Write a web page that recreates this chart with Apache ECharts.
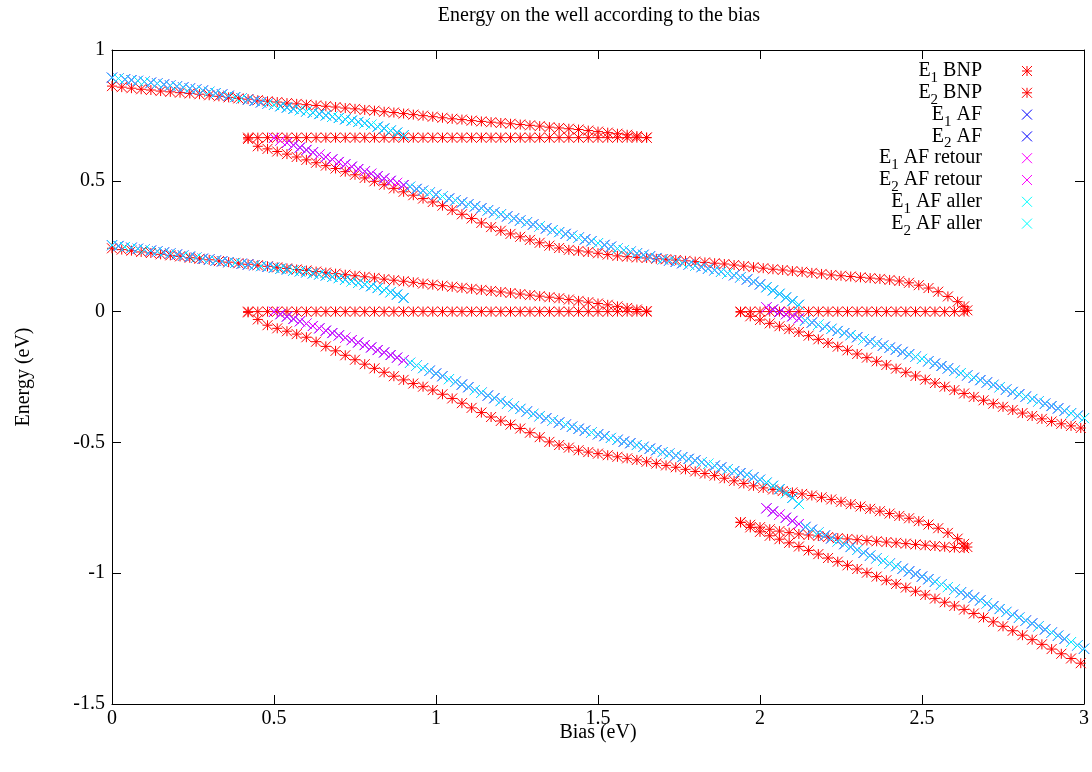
<!DOCTYPE html>
<html>
<head>
<meta charset="utf-8">
<title>Energy on the well according to the bias</title>
<script src="https://cdn.jsdelivr.net/npm/echarts@6/dist/echarts.min.js"></script>
<style>
  html, body { margin: 0; padding: 0; background: #fff; }
  #chart { width: 1092px; height: 772px; }
</style>
</head>
<body>
<div id="chart"></div>
<script>
// ---- Bias grids (eV) of the sampled branches ----
const biasA = [0,0.03,0.06,0.09,0.12,0.15,0.18,0.21,0.24,0.27,
  0.30,0.33,0.36,0.39,0.42,0.45,0.48,0.51,0.54,0.57,
  0.60,0.63,0.66,0.69,0.72,0.75,0.78,0.81,0.84,0.87,
  0.90,0.93,0.96,0.99,1.02,1.05,1.08,1.11,1.14,1.17,
  1.20,1.23,1.26,1.29,1.32,1.35,1.38,1.41,1.44,1.47,
  1.50,1.53,1.56,1.59,1.62,1.65];
const biasB = [0.42,0.45,0.48,0.51,0.54,0.57,0.60,0.63,0.66,0.69,
  0.72,0.75,0.78,0.81,0.84,0.87,0.90,0.93,0.96,0.99,
  1.02,1.05,1.08,1.11,1.14,1.17,1.20,1.23,1.26,1.29,
  1.32,1.35,1.38,1.41,1.44,1.47,1.50,1.53,1.56,1.59,
  1.62,1.65];
const biasC = [0.42,0.45,0.48,0.51,0.54,0.57,0.60,0.63,0.66,0.69,
  0.72,0.75,0.78,0.81,0.84,0.87,0.90,0.93,0.96,0.99,
  1.02,1.05,1.08,1.11,1.14,1.17,1.20,1.23,1.26,1.29,
  1.32,1.35,1.38,1.41,1.44,1.47,1.50,1.53,1.56,1.59,
  1.62,1.65,1.68,1.71,1.74,1.77,1.80,1.83,1.86,1.89,
  1.92,1.95,1.98,2.01,2.04,2.07,2.10,2.13,2.16,2.19,
  2.22,2.25,2.28,2.31,2.34,2.37,2.40,2.43,2.46,2.49,
  2.52,2.55,2.58,2.61,2.63,2.64];
const biasD = [1.94,1.97,2.00,2.03,2.06,2.09,2.12,2.15,2.18,2.21,
  2.24,2.27,2.30,2.33,2.36,2.39,2.42,2.45,2.48,2.51,
  2.54,2.57,2.60,2.63];
const biasE = [1.94,1.97,2.00,2.03,2.06,2.09,2.12,2.15,2.18,2.21,
  2.24,2.27,2.30,2.33,2.36,2.39,2.42,2.45,2.48,2.51,
  2.54,2.57,2.60,2.63,2.66,2.69,2.72,2.75,2.78,2.81,
  2.84,2.87,2.90,2.93,2.96,2.99];
const afBiasHigh = [0,0.02,0.04,0.06,0.08,0.10,0.12,0.14,0.16,0.18,
  0.20,0.22,0.24,0.26,0.28,0.30,0.32,0.34,0.36,0.38,
  0.40,0.42,0.44,0.46,0.48,0.50,0.52,0.54,0.56,0.58,
  0.60,0.62,0.64,0.66,0.68,0.70,0.72,0.74,0.76,0.78,
  0.80,0.82,0.84,0.86,0.88,0.90];
const afBiasMid = [0.50,0.52,0.54,0.56,0.58,0.60,0.62,0.64,0.66,0.68,
  0.70,0.72,0.74,0.76,0.78,0.80,0.82,0.84,0.86,0.88,
  0.90,0.92,0.94,0.96,0.98,1.00,1.02,1.04,1.06,1.08,
  1.10,1.12,1.14,1.16,1.18,1.20,1.22,1.24,1.26,1.28,
  1.30,1.32,1.34,1.36,1.38,1.40,1.42,1.44,1.46,1.48,
  1.50,1.52,1.54,1.56,1.58,1.60,1.62,1.64,1.66,1.68,
  1.70,1.72,1.74,1.76,1.78,1.80,1.82,1.84,1.86,1.88,
  1.90,1.92,1.94,1.96,1.98,2.00,2.02,2.04,2.06,2.08,
  2.10,2.12];
const afBiasLow = [2.02,2.04,2.06,2.08,2.10,2.12,2.14,2.16,2.18,2.20,
  2.22,2.24,2.26,2.28,2.30,2.32,2.34,2.36,2.38,2.40,
  2.42,2.44,2.46,2.48,2.50,2.52,2.54,2.56,2.58,2.60,
  2.62,2.64,2.66,2.68,2.70,2.72,2.74,2.76,2.78,2.80,
  2.82,2.84,2.86,2.88,2.90,2.92,2.94,2.96,2.98,3.00];

// ---- BNP solutions, level E2 (eV) ----
const e2BnpUpper = [0.862,0.858,0.854,0.850,0.847,0.843,0.840,0.837,0.834,0.831,
  0.827,0.823,0.819,0.815,0.812,0.808,0.804,0.801,0.797,0.794,
  0.791,0.788,0.785,0.782,0.778,0.775,0.771,0.768,0.764,0.761,
  0.757,0.753,0.749,0.745,0.741,0.737,0.734,0.730,0.727,0.724,
  0.721,0.718,0.715,0.712,0.709,0.705,0.702,0.699,0.696,0.692,
  0.688,0.684,0.680,0.676,0.671,0.665];
const e2BnpFlat1 = 0.665;
const e2BnpLower = [0.660,0.632,0.622,0.612,0.602,0.591,0.580,0.569,0.558,0.547,
  0.535,0.523,0.511,0.498,0.485,0.471,0.458,0.445,0.432,0.419,
  0.405,0.388,0.372,0.356,0.339,0.323,0.309,0.297,0.286,0.274,
  0.263,0.252,0.243,0.236,0.232,0.228,0.223,0.218,0.213,0.210,
  0.207,0.205,0.202,0.200,0.197,0.194,0.191,0.188,0.185,0.182,
  0.178,0.174,0.170,0.166,0.162,0.159,0.155,0.152,0.148,0.144,
  0.140,0.137,0.134,0.131,0.128,0.125,0.121,0.117,0.110,0.101,
  0.090,0.076,0.058,0.038,0.020,0.005];
const e2BnpFlat2 = 0.0;
const e2BnpBottom = [-0.002,-0.018,-0.032,-0.045,-0.056,-0.067,-0.078,-0.092,-0.106,-0.120,
  -0.134,-0.148,-0.162,-0.176,-0.190,-0.204,-0.218,-0.232,-0.246,-0.260,
  -0.273,-0.287,-0.300,-0.313,-0.326,-0.339,-0.352,-0.364,-0.376,-0.388,
  -0.399,-0.410,-0.420,-0.429,-0.437,-0.445];

// ---- BNP solutions, level E1 (eV) ----
const e1BnpUpper = [0.242,0.237,0.233,0.228,0.224,0.219,0.215,0.211,0.206,0.202,
  0.198,0.193,0.189,0.185,0.181,0.177,0.173,0.169,0.165,0.161,
  0.157,0.153,0.149,0.145,0.141,0.137,0.133,0.129,0.124,0.120,
  0.116,0.112,0.107,0.103,0.099,0.095,0.091,0.087,0.083,0.079,
  0.075,0.071,0.067,0.063,0.059,0.055,0.051,0.046,0.041,0.036,
  0.031,0.026,0.020,0.014,0.008,0.002];
const e1BnpFlat1 = 0.0;
const e1BnpLower = [-0.003,-0.030,-0.052,-0.064,-0.075,-0.086,-0.098,-0.115,-0.133,-0.150,
  -0.167,-0.184,-0.201,-0.217,-0.232,-0.247,-0.261,-0.275,-0.287,-0.300,
  -0.316,-0.332,-0.350,-0.368,-0.386,-0.403,-0.418,-0.432,-0.447,-0.463,
  -0.480,-0.498,-0.510,-0.520,-0.530,-0.537,-0.543,-0.549,-0.555,-0.561,
  -0.567,-0.574,-0.581,-0.588,-0.595,-0.603,-0.611,-0.619,-0.627,-0.637,
  -0.647,-0.657,-0.666,-0.674,-0.680,-0.686,-0.691,-0.697,-0.703,-0.710,
  -0.718,-0.727,-0.736,-0.745,-0.754,-0.763,-0.772,-0.781,-0.790,-0.801,
  -0.814,-0.828,-0.846,-0.868,-0.888,-0.900];
const e1BnpMiddle2 = [-0.805,-0.815,-0.824,-0.832,-0.839,-0.845,-0.850,-0.854,-0.858,-0.862,
  -0.866,-0.869,-0.872,-0.875,-0.878,-0.881,-0.884,-0.887,-0.890,-0.893,
  -0.896,-0.899,-0.902,-0.904];
const e1BnpBottom = [-0.806,-0.825,-0.842,-0.857,-0.870,-0.884,-0.898,-0.913,-0.927,-0.942,
  -0.956,-0.970,-0.984,-0.998,-1.013,-1.027,-1.041,-1.055,-1.069,-1.083,
  -1.097,-1.111,-1.125,-1.139,-1.154,-1.169,-1.186,-1.203,-1.220,-1.237,
  -1.254,-1.272,-1.290,-1.308,-1.326,-1.344];

// ---- AF self-consistent branches (eV) ----
const e2AfHigh = [0.894,0.891,0.888,0.885,0.882,0.879,0.875,0.872,0.868,0.864,
  0.861,0.857,0.853,0.849,0.845,0.840,0.835,0.830,0.825,0.820,
  0.815,0.810,0.805,0.800,0.795,0.790,0.785,0.780,0.775,0.770,
  0.765,0.760,0.755,0.750,0.745,0.740,0.735,0.730,0.725,0.720,
  0.714,0.707,0.700,0.692,0.684,0.674];
const e2AfMid = [0.664,0.654,0.645,0.636,0.627,0.618,0.609,0.600,0.591,0.582,
  0.572,0.563,0.554,0.545,0.536,0.527,0.518,0.509,0.500,0.492,
  0.484,0.477,0.469,0.462,0.455,0.447,0.440,0.432,0.425,0.417,
  0.410,0.402,0.395,0.387,0.379,0.372,0.364,0.356,0.348,0.341,
  0.333,0.326,0.318,0.311,0.304,0.297,0.290,0.283,0.276,0.269,
  0.262,0.255,0.248,0.241,0.235,0.229,0.223,0.217,0.211,0.205,
  0.200,0.195,0.190,0.185,0.180,0.175,0.170,0.164,0.158,0.152,
  0.146,0.139,0.131,0.123,0.114,0.104,0.093,0.081,0.068,0.054,
  0.040,0.026];
const e2AfLow = [0.016,0.008,-0.002,-0.010,-0.018,-0.026,-0.034,-0.042,-0.050,-0.058,
  -0.066,-0.074,-0.082,-0.090,-0.098,-0.106,-0.114,-0.122,-0.130,-0.138,
  -0.145,-0.154,-0.163,-0.172,-0.181,-0.190,-0.199,-0.208,-0.217,-0.226,
  -0.235,-0.244,-0.253,-0.262,-0.271,-0.280,-0.289,-0.298,-0.307,-0.316,
  -0.325,-0.334,-0.343,-0.352,-0.361,-0.370,-0.379,-0.388,-0.398,-0.407];
const e1AfHigh = [0.254,0.251,0.247,0.244,0.240,0.237,0.233,0.230,0.226,0.222,
  0.218,0.214,0.210,0.206,0.202,0.199,0.195,0.192,0.189,0.186,
  0.183,0.180,0.177,0.174,0.171,0.168,0.164,0.161,0.157,0.154,
  0.150,0.146,0.142,0.138,0.133,0.128,0.122,0.116,0.110,0.104,
  0.097,0.090,0.082,0.074,0.065,0.052];
const e1AfMid = [-0.001,-0.010,-0.019,-0.028,-0.037,-0.046,-0.055,-0.064,-0.073,-0.082,
  -0.091,-0.100,-0.109,-0.118,-0.128,-0.137,-0.147,-0.156,-0.166,-0.176,
  -0.186,-0.196,-0.206,-0.216,-0.226,-0.237,-0.247,-0.258,-0.268,-0.279,
  -0.289,-0.300,-0.310,-0.321,-0.331,-0.342,-0.352,-0.362,-0.372,-0.382,
  -0.391,-0.400,-0.408,-0.416,-0.424,-0.432,-0.440,-0.448,-0.455,-0.462,
  -0.469,-0.476,-0.483,-0.490,-0.497,-0.503,-0.510,-0.517,-0.524,-0.530,
  -0.537,-0.543,-0.550,-0.556,-0.563,-0.569,-0.576,-0.582,-0.589,-0.596,
  -0.603,-0.610,-0.617,-0.624,-0.633,-0.643,-0.654,-0.666,-0.679,-0.694,
  -0.712,-0.735];
const e1AfLow = [-0.752,-0.764,-0.776,-0.788,-0.800,-0.812,-0.823,-0.834,-0.845,-0.856,
  -0.867,-0.878,-0.889,-0.900,-0.911,-0.922,-0.933,-0.943,-0.953,-0.963,
  -0.973,-0.983,-0.993,-1.003,-1.013,-1.023,-1.033,-1.043,-1.053,-1.063,
  -1.073,-1.083,-1.093,-1.104,-1.115,-1.126,-1.137,-1.148,-1.159,-1.170,
  -1.181,-1.192,-1.203,-1.215,-1.227,-1.239,-1.251,-1.263,-1.276,-1.289];

// Bias values where the swept solution jumps between branches
const allerJumpBias = [0.90, 2.12];   // forward sweep: high -> mid, mid -> low
const retourJumpBias = [0.50, 2.02];  // backward sweep: mid -> high, low -> mid

// Key entries: level index, label suffix, marker kind, colour
const keyLevels = ['1', '2', '1', '2', '1', '2', '1', '2'];
const keyLabels = [' BNP', ' BNP', ' AF', ' AF', ' AF retour', ' AF retour', ' AF aller', ' AF aller'];

// ---- helpers ----
const EPS = 1e-9;
const pts = (xs, ys) => xs.map((x, i) => [x, ys[i]]);
const flat = (xs, y) => xs.map(x => [x, y]);

const e2Bnp = [].concat(pts(biasA, e2BnpUpper), flat(biasB, e2BnpFlat1),
  pts(biasC, e2BnpLower), flat(biasD, e2BnpFlat2), pts(biasE, e2BnpBottom));
const e1Bnp = [].concat(pts(biasA, e1BnpUpper), flat(biasB, e1BnpFlat1),
  pts(biasC, e1BnpLower), pts(biasD, e1BnpMiddle2), pts(biasE, e1BnpBottom));

function branches(high, mid, low) {
  return { high: pts(afBiasHigh, high), mid: pts(afBiasMid, mid), low: pts(afBiasLow, low) };
}
const e2Af = branches(e2AfHigh, e2AfMid, e2AfLow);
const e1Af = branches(e1AfHigh, e1AfMid, e1AfLow);

function allPoints(b) { return [].concat(b.high, b.mid, b.low); }
function aller(b) {
  return [].concat(
    b.high.filter(p => p[0] <= allerJumpBias[0] + EPS),
    b.mid.filter(p => p[0] > allerJumpBias[0] + EPS && p[0] <= allerJumpBias[1] + EPS),
    b.low.filter(p => p[0] > allerJumpBias[1] + EPS));
}
function retour(b) {
  return [].concat(
    b.low.filter(p => p[0] >= retourJumpBias[1] - EPS),
    b.mid.filter(p => p[0] < retourJumpBias[1] - EPS && p[0] >= retourJumpBias[0] - EPS),
    b.high.filter(p => p[0] < retourJumpBias[0] - EPS));
}

// ---- styling ----
const FONT = "'Liberation Serif', 'Times New Roman', serif";
const CROSS = 'path://M0 0L10 10M10 0L0 10';
const STAR = 'path://M0 0L10 10M10 0L0 10M5 0L5 10M0 5L10 5';
const RED = '#ff0000', BLUE = '#0000ff', MAGENTA = '#ff00ff', CYAN = '#00ffff';

function pointSeries(name, data, symbol, color) {
  return {
    name, type: 'scatter', data, symbol, symbolSize: 10,
    itemStyle: { color, borderColor: color, borderWidth: 1, opacity: 1 },
    progressive: 0, silent: true, animation: false
  };
}

const series = [
  pointSeries('E1 BNP', e1Bnp, STAR, RED),
  pointSeries('E2 BNP', e2Bnp, STAR, RED),
  pointSeries('E1 AF', allPoints(e1Af), CROSS, BLUE),
  pointSeries('E2 AF', allPoints(e2Af), CROSS, BLUE),
  pointSeries('E1 AF retour', retour(e1Af), CROSS, MAGENTA),
  pointSeries('E2 AF retour', retour(e2Af), CROSS, MAGENTA),
  pointSeries('E1 AF aller', aller(e1Af), CROSS, CYAN),
  pointSeries('E2 AF aller', aller(e2Af), CROSS, CYAN)
];

// ---- key (text right-aligned, sample marker to its right) ----
const KEY_TEXT_RIGHT = 982, KEY_MARK_X = 1027, KEY_TOP = 71, KEY_STEP = 21.8, HALF = 5;
const keyGraphics = [];
series.forEach((s, i) => {
  const y = KEY_TOP + i * KEY_STEP;
  const stroke = s.itemStyle.color;
  keyGraphics.push({
    type: 'text', silent: true,
    style: {
      x: KEY_TEXT_RIGHT, y, align: 'right', verticalAlign: 'middle',
      text: '{m|E}{s|' + keyLevels[i] + '}{m|' + keyLabels[i] + '}',
      fontFamily: FONT, fontSize: 20, fill: '#000',
      rich: {
        m: { fontFamily: FONT, fontSize: 20, fill: '#000', lineHeight: 22 },
        s: { fontFamily: FONT, fontSize: 15, fill: '#000', lineHeight: 8, height: 8, verticalAlign: 'bottom' }
      }
    }
  });
  const segs = [[-HALF, -HALF, HALF, HALF], [HALF, -HALF, -HALF, HALF]];
  if (s.symbol === STAR) segs.push([0, -HALF, 0, HALF], [-HALF, 0, HALF, 0]);
  segs.forEach(sg => keyGraphics.push({
    type: 'line', silent: true,
    shape: { x1: KEY_MARK_X + sg[0], y1: y + sg[1], x2: KEY_MARK_X + sg[2], y2: y + sg[3] },
    style: { stroke, lineWidth: 1 }
  }));
});

const frameLine = { show: true, onZero: false, lineStyle: { color: '#000', width: 1 } };
const innerTick = { show: true, inside: true, length: 9, lineStyle: { color: '#000', width: 1 } };

const chart = echarts.init(document.getElementById('chart'), null, { renderer: 'canvas' });
chart.setOption({
  animation: false,
  backgroundColor: '#fff',
  title: {
    text: 'Energy on the well according to the bias',
    left: 599, top: 6, padding: 0, textAlign: 'center',
    textStyle: { fontFamily: FONT, fontSize: 20, fontWeight: 'normal', color: '#000' }
  },
  grid: { left: 112, right: 6, top: 50, bottom: 68 },
  xAxis: [
    {
      type: 'value', min: 0, max: 3, interval: 0.5,
      name: 'Bias (eV)', nameLocation: 'middle', nameGap: 19, nameMoveOverlap: false,
      nameTextStyle: { fontFamily: FONT, fontSize: 20, color: '#000' },
      axisLine: frameLine, axisTick: innerTick, splitLine: { show: false },
      axisLabel: { fontFamily: FONT, fontSize: 20, color: '#000', margin: 5 }
    },
    {
      type: 'value', position: 'top', min: 0, max: 3, interval: 0.5,
      axisLine: frameLine, axisTick: innerTick, splitLine: { show: false },
      axisLabel: { show: false }
    }
  ],
  yAxis: [
    {
      type: 'value', min: -1.5, max: 1, interval: 0.5,
      name: 'Energy (eV)', nameLocation: 'middle', nameGap: 78, nameRotate: 90, nameMoveOverlap: false,
      nameTextStyle: { fontFamily: FONT, fontSize: 20, color: '#000' },
      axisLine: frameLine, axisTick: innerTick, splitLine: { show: false },
      axisLabel: { fontFamily: FONT, fontSize: 20, color: '#000', margin: 7 }
    },
    {
      type: 'value', position: 'right', min: -1.5, max: 1, interval: 0.5,
      axisLine: frameLine, axisTick: innerTick, splitLine: { show: false },
      axisLabel: { show: false }
    }
  ],
  graphic: keyGraphics,
  series
});
</script>
</body>
</html>
